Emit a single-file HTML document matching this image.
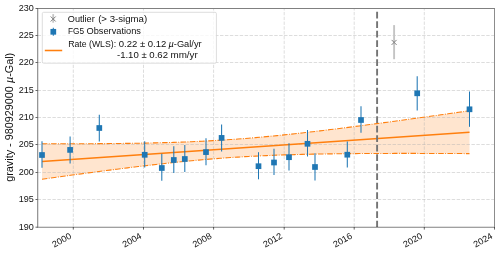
<!DOCTYPE html>
<html><head><meta charset="utf-8"><style>
html,body{margin:0;padding:0;background:#fff;width:500px;height:253px;overflow:hidden}
svg{display:block;will-change:transform;font-family:"Liberation Sans", sans-serif;font-size:8.7px;fill:#111}
</style></head><body>
<svg width="500" height="253" viewBox="0 0 500 253">
<rect width="500" height="253" fill="#fff"/>
<polygon points="42.00,143.77 45.56,143.78 49.12,143.78 52.69,143.78 56.25,143.78 59.81,143.78 63.38,143.78 66.94,143.77 70.50,143.77 74.06,143.76 77.62,143.75 81.19,143.74 84.75,143.73 88.31,143.71 91.88,143.69 95.44,143.67 99.00,143.65 102.56,143.62 106.12,143.60 109.69,143.57 113.25,143.53 116.81,143.50 120.38,143.46 123.94,143.42 127.50,143.37 131.06,143.32 134.62,143.27 138.19,143.21 141.75,143.15 145.31,143.08 148.88,143.01 152.44,142.93 156.00,142.85 159.56,142.77 163.12,142.67 166.69,142.58 170.25,142.47 173.81,142.36 177.38,142.24 180.94,142.12 184.50,141.99 188.06,141.85 191.62,141.71 195.19,141.55 198.75,141.39 202.31,141.22 205.88,141.04 209.44,140.86 213.00,140.66 216.56,140.45 220.12,140.24 223.69,140.02 227.25,139.79 230.81,139.54 234.38,139.29 237.94,139.03 241.50,138.76 245.06,138.49 248.62,138.20 252.19,137.90 255.75,137.60 259.31,137.28 262.88,136.96 266.44,136.63 270.00,136.29 273.56,135.95 277.12,135.59 280.69,135.23 284.25,134.87 287.81,134.49 291.38,134.11 294.94,133.72 298.50,133.33 302.06,132.93 305.62,132.53 309.19,132.12 312.75,131.70 316.31,131.29 319.88,130.86 323.44,130.43 327.00,130.00 330.56,129.57 334.12,129.13 337.69,128.68 341.25,128.24 344.81,127.79 348.38,127.33 351.94,126.88 355.50,126.42 359.06,125.95 362.62,125.49 366.19,125.02 369.75,124.55 373.31,124.08 376.88,123.61 380.44,123.13 384.00,122.66 387.56,122.18 391.12,121.70 394.69,121.21 398.25,120.73 401.81,120.24 405.38,119.76 408.94,119.27 412.50,118.78 416.06,118.28 419.62,117.79 423.19,117.30 426.75,116.80 430.31,116.31 433.88,115.81 437.44,115.31 441.00,114.81 444.56,114.31 448.12,113.81 451.69,113.31 455.25,112.81 458.81,112.30 462.38,111.80 465.94,111.29 469.50,110.79 469.50,153.60 465.94,153.58 462.38,153.57 458.81,153.55 455.25,153.53 451.69,153.52 448.12,153.51 444.56,153.49 441.00,153.48 437.44,153.47 433.88,153.46 430.31,153.45 426.75,153.44 423.19,153.44 419.62,153.43 416.06,153.42 412.50,153.42 408.94,153.42 405.38,153.42 401.81,153.42 398.25,153.42 394.69,153.42 391.12,153.43 387.56,153.44 384.00,153.45 380.44,153.46 376.88,153.47 373.31,153.48 369.75,153.50 366.19,153.52 362.62,153.54 359.06,153.56 355.50,153.59 351.94,153.62 348.38,153.65 344.81,153.69 341.25,153.72 337.69,153.76 334.12,153.81 330.56,153.86 327.00,153.91 323.44,153.96 319.88,154.02 316.31,154.09 312.75,154.16 309.19,154.23 305.62,154.31 302.06,154.39 298.50,154.48 294.94,154.58 291.38,154.68 287.81,154.79 284.25,154.90 280.69,155.02 277.12,155.15 273.56,155.28 270.00,155.43 266.44,155.58 262.88,155.73 259.31,155.90 255.75,156.08 252.19,156.26 248.62,156.45 245.06,156.65 241.50,156.86 237.94,157.08 234.38,157.31 230.81,157.54 227.25,157.79 223.69,158.05 220.12,158.31 216.56,158.59 213.00,158.87 209.44,159.16 205.88,159.46 202.31,159.77 198.75,160.09 195.19,160.42 191.62,160.75 188.06,161.09 184.50,161.44 180.94,161.80 177.38,162.17 173.81,162.54 170.25,162.91 166.69,163.30 163.12,163.69 159.56,164.08 156.00,164.49 152.44,164.89 148.88,165.31 145.31,165.72 141.75,166.14 138.19,166.57 134.62,167.00 131.06,167.43 127.50,167.87 123.94,168.31 120.38,168.76 116.81,169.21 113.25,169.66 109.69,170.12 106.12,170.57 102.56,171.03 99.00,171.50 95.44,171.96 91.88,172.43 88.31,172.90 84.75,173.37 81.19,173.85 77.62,174.33 74.06,174.80 70.50,175.28 66.94,175.77 63.38,176.25 59.81,176.74 56.25,177.22 52.69,177.71 49.12,178.20 45.56,178.69 42.00,179.18" fill="#ff7f0e" fill-opacity="0.2" stroke="none"/>
<line x1="37.6" y1="227.50" x2="494.4" y2="227.50" stroke="#b0b0b0" stroke-opacity="0.55" stroke-width="0.8" stroke-dasharray="3.44 1.49"/>
<line x1="37.6" y1="199.50" x2="494.4" y2="199.50" stroke="#b0b0b0" stroke-opacity="0.55" stroke-width="0.8" stroke-dasharray="3.44 1.49"/>
<line x1="37.6" y1="172.50" x2="494.4" y2="172.50" stroke="#b0b0b0" stroke-opacity="0.55" stroke-width="0.8" stroke-dasharray="3.44 1.49"/>
<line x1="37.6" y1="144.50" x2="494.4" y2="144.50" stroke="#b0b0b0" stroke-opacity="0.55" stroke-width="0.8" stroke-dasharray="3.44 1.49"/>
<line x1="37.6" y1="117.50" x2="494.4" y2="117.50" stroke="#b0b0b0" stroke-opacity="0.55" stroke-width="0.8" stroke-dasharray="3.44 1.49"/>
<line x1="37.6" y1="90.50" x2="494.4" y2="90.50" stroke="#b0b0b0" stroke-opacity="0.55" stroke-width="0.8" stroke-dasharray="3.44 1.49"/>
<line x1="37.6" y1="62.50" x2="494.4" y2="62.50" stroke="#b0b0b0" stroke-opacity="0.55" stroke-width="0.8" stroke-dasharray="3.44 1.49"/>
<line x1="37.6" y1="35.50" x2="494.4" y2="35.50" stroke="#b0b0b0" stroke-opacity="0.55" stroke-width="0.8" stroke-dasharray="3.44 1.49"/>
<line x1="37.6" y1="8.50" x2="494.4" y2="8.50" stroke="#b0b0b0" stroke-opacity="0.55" stroke-width="0.8" stroke-dasharray="3.44 1.49"/>
<line x1="73.30" y1="227.0" x2="73.30" y2="8.3" stroke="#b0b0b0" stroke-opacity="0.55" stroke-width="0.8" stroke-dasharray="3.35 1.45" stroke-dashoffset="4.3"/>
<line x1="143.50" y1="227.0" x2="143.50" y2="8.3" stroke="#b0b0b0" stroke-opacity="0.55" stroke-width="0.8" stroke-dasharray="3.35 1.45" stroke-dashoffset="4.3"/>
<line x1="213.60" y1="227.0" x2="213.60" y2="8.3" stroke="#b0b0b0" stroke-opacity="0.55" stroke-width="0.8" stroke-dasharray="3.35 1.45" stroke-dashoffset="4.3"/>
<line x1="284.20" y1="227.0" x2="284.20" y2="8.3" stroke="#b0b0b0" stroke-opacity="0.55" stroke-width="0.8" stroke-dasharray="3.35 1.45" stroke-dashoffset="4.3"/>
<line x1="354.20" y1="227.0" x2="354.20" y2="8.3" stroke="#b0b0b0" stroke-opacity="0.55" stroke-width="0.8" stroke-dasharray="3.35 1.45" stroke-dashoffset="4.3"/>
<line x1="424.30" y1="227.0" x2="424.30" y2="8.3" stroke="#b0b0b0" stroke-opacity="0.55" stroke-width="0.8" stroke-dasharray="3.35 1.45" stroke-dashoffset="4.3"/>
<line x1="494.50" y1="227.0" x2="494.50" y2="8.3" stroke="#b0b0b0" stroke-opacity="0.55" stroke-width="0.8" stroke-dasharray="3.35 1.45" stroke-dashoffset="4.3"/>
<path d="M42.00,143.77 L45.56,143.78 L49.12,143.78 L52.69,143.78 L56.25,143.78 L59.81,143.78 L63.38,143.78 L66.94,143.77 L70.50,143.77 L74.06,143.76 L77.62,143.75 L81.19,143.74 L84.75,143.73 L88.31,143.71 L91.88,143.69 L95.44,143.67 L99.00,143.65 L102.56,143.62 L106.12,143.60 L109.69,143.57 L113.25,143.53 L116.81,143.50 L120.38,143.46 L123.94,143.42 L127.50,143.37 L131.06,143.32 L134.62,143.27 L138.19,143.21 L141.75,143.15 L145.31,143.08 L148.88,143.01 L152.44,142.93 L156.00,142.85 L159.56,142.77 L163.12,142.67 L166.69,142.58 L170.25,142.47 L173.81,142.36 L177.38,142.24 L180.94,142.12 L184.50,141.99 L188.06,141.85 L191.62,141.71 L195.19,141.55 L198.75,141.39 L202.31,141.22 L205.88,141.04 L209.44,140.86 L213.00,140.66 L216.56,140.45 L220.12,140.24 L223.69,140.02 L227.25,139.79 L230.81,139.54 L234.38,139.29 L237.94,139.03 L241.50,138.76 L245.06,138.49 L248.62,138.20 L252.19,137.90 L255.75,137.60 L259.31,137.28 L262.88,136.96 L266.44,136.63 L270.00,136.29 L273.56,135.95 L277.12,135.59 L280.69,135.23 L284.25,134.87 L287.81,134.49 L291.38,134.11 L294.94,133.72 L298.50,133.33 L302.06,132.93 L305.62,132.53 L309.19,132.12 L312.75,131.70 L316.31,131.29 L319.88,130.86 L323.44,130.43 L327.00,130.00 L330.56,129.57 L334.12,129.13 L337.69,128.68 L341.25,128.24 L344.81,127.79 L348.38,127.33 L351.94,126.88 L355.50,126.42 L359.06,125.95 L362.62,125.49 L366.19,125.02 L369.75,124.55 L373.31,124.08 L376.88,123.61 L380.44,123.13 L384.00,122.66 L387.56,122.18 L391.12,121.70 L394.69,121.21 L398.25,120.73 L401.81,120.24 L405.38,119.76 L408.94,119.27 L412.50,118.78 L416.06,118.28 L419.62,117.79 L423.19,117.30 L426.75,116.80 L430.31,116.31 L433.88,115.81 L437.44,115.31 L441.00,114.81 L444.56,114.31 L448.12,113.81 L451.69,113.31 L455.25,112.81 L458.81,112.30 L462.38,111.80 L465.94,111.29 L469.50,110.79" fill="none" stroke="#ff7f0e" stroke-width="1.1" stroke-dasharray="5.585 1.396 0.873 1.396" stroke-dashoffset="0.2"/>
<path d="M42.00,179.18 L45.56,178.69 L49.12,178.20 L52.69,177.71 L56.25,177.22 L59.81,176.74 L63.38,176.25 L66.94,175.77 L70.50,175.28 L74.06,174.80 L77.62,174.33 L81.19,173.85 L84.75,173.37 L88.31,172.90 L91.88,172.43 L95.44,171.96 L99.00,171.50 L102.56,171.03 L106.12,170.57 L109.69,170.12 L113.25,169.66 L116.81,169.21 L120.38,168.76 L123.94,168.31 L127.50,167.87 L131.06,167.43 L134.62,167.00 L138.19,166.57 L141.75,166.14 L145.31,165.72 L148.88,165.31 L152.44,164.89 L156.00,164.49 L159.56,164.08 L163.12,163.69 L166.69,163.30 L170.25,162.91 L173.81,162.54 L177.38,162.17 L180.94,161.80 L184.50,161.44 L188.06,161.09 L191.62,160.75 L195.19,160.42 L198.75,160.09 L202.31,159.77 L205.88,159.46 L209.44,159.16 L213.00,158.87 L216.56,158.59 L220.12,158.31 L223.69,158.05 L227.25,157.79 L230.81,157.54 L234.38,157.31 L237.94,157.08 L241.50,156.86 L245.06,156.65 L248.62,156.45 L252.19,156.26 L255.75,156.08 L259.31,155.90 L262.88,155.73 L266.44,155.58 L270.00,155.43 L273.56,155.28 L277.12,155.15 L280.69,155.02 L284.25,154.90 L287.81,154.79 L291.38,154.68 L294.94,154.58 L298.50,154.48 L302.06,154.39 L305.62,154.31 L309.19,154.23 L312.75,154.16 L316.31,154.09 L319.88,154.02 L323.44,153.96 L327.00,153.91 L330.56,153.86 L334.12,153.81 L337.69,153.76 L341.25,153.72 L344.81,153.69 L348.38,153.65 L351.94,153.62 L355.50,153.59 L359.06,153.56 L362.62,153.54 L366.19,153.52 L369.75,153.50 L373.31,153.48 L376.88,153.47 L380.44,153.46 L384.00,153.45 L387.56,153.44 L391.12,153.43 L394.69,153.42 L398.25,153.42 L401.81,153.42 L405.38,153.42 L408.94,153.42 L412.50,153.42 L416.06,153.42 L419.62,153.43 L423.19,153.44 L426.75,153.44 L430.31,153.45 L433.88,153.46 L437.44,153.47 L441.00,153.48 L444.56,153.49 L448.12,153.51 L451.69,153.52 L455.25,153.53 L458.81,153.55 L462.38,153.57 L465.94,153.58 L469.50,153.60" fill="none" stroke="#ff7f0e" stroke-width="1.1" stroke-dasharray="5.585 1.396 0.873 1.396" stroke-dashoffset="0.2"/>
<line x1="42.0" y1="161.48" x2="469.5" y2="132.19" stroke="#ff7f0e" stroke-width="1.55"/>
<line x1="377.1" y1="227.0" x2="377.1" y2="8.3" stroke="#747474" stroke-width="1.9" stroke-dasharray="6.63 2.87" stroke-dashoffset="0.4"/>
<line x1="42.0" y1="141.3" x2="42.0" y2="167.8" stroke="#1f77b4" stroke-width="1.05"/>
<line x1="70.1" y1="136.5" x2="70.1" y2="163.5" stroke="#1f77b4" stroke-width="1.05"/>
<line x1="99.3" y1="114.7" x2="99.3" y2="141.4" stroke="#1f77b4" stroke-width="1.05"/>
<line x1="144.7" y1="141.2" x2="144.7" y2="167.5" stroke="#1f77b4" stroke-width="1.05"/>
<line x1="161.8" y1="153.8" x2="161.8" y2="180.7" stroke="#1f77b4" stroke-width="1.05"/>
<line x1="173.8" y1="146.2" x2="173.8" y2="173.0" stroke="#1f77b4" stroke-width="1.05"/>
<line x1="184.8" y1="145.0" x2="184.8" y2="172.0" stroke="#1f77b4" stroke-width="1.05"/>
<line x1="206.0" y1="138.3" x2="206.0" y2="165.3" stroke="#1f77b4" stroke-width="1.05"/>
<line x1="221.6" y1="124.5" x2="221.6" y2="151.5" stroke="#1f77b4" stroke-width="1.05"/>
<line x1="258.5" y1="152.2" x2="258.5" y2="179.3" stroke="#1f77b4" stroke-width="1.05"/>
<line x1="274.0" y1="148.8" x2="274.0" y2="175.0" stroke="#1f77b4" stroke-width="1.05"/>
<line x1="289.0" y1="143.3" x2="289.0" y2="170.5" stroke="#1f77b4" stroke-width="1.05"/>
<line x1="307.5" y1="130.0" x2="307.5" y2="156.5" stroke="#1f77b4" stroke-width="1.05"/>
<line x1="315.0" y1="153.2" x2="315.0" y2="180.5" stroke="#1f77b4" stroke-width="1.05"/>
<line x1="347.3" y1="141.5" x2="347.3" y2="167.5" stroke="#1f77b4" stroke-width="1.05"/>
<line x1="361.0" y1="106.2" x2="361.0" y2="132.7" stroke="#1f77b4" stroke-width="1.05"/>
<line x1="417.2" y1="76.2" x2="417.2" y2="110.5" stroke="#1f77b4" stroke-width="1.05"/>
<line x1="469.5" y1="91.5" x2="469.5" y2="126.8" stroke="#1f77b4" stroke-width="1.05"/>
<rect x="39.15" y="152.15" width="5.7" height="5.7" fill="#1f77b4"/>
<rect x="67.25" y="147.05" width="5.7" height="5.7" fill="#1f77b4"/>
<rect x="96.45" y="125.15" width="5.7" height="5.7" fill="#1f77b4"/>
<rect x="141.85" y="151.95" width="5.7" height="5.7" fill="#1f77b4"/>
<rect x="158.95" y="165.15" width="5.7" height="5.7" fill="#1f77b4"/>
<rect x="170.95" y="157.15" width="5.7" height="5.7" fill="#1f77b4"/>
<rect x="181.95" y="156.15" width="5.7" height="5.7" fill="#1f77b4"/>
<rect x="203.15" y="149.25" width="5.7" height="5.7" fill="#1f77b4"/>
<rect x="218.75" y="135.05" width="5.7" height="5.7" fill="#1f77b4"/>
<rect x="255.65" y="163.35" width="5.7" height="5.7" fill="#1f77b4"/>
<rect x="271.15" y="159.65" width="5.7" height="5.7" fill="#1f77b4"/>
<rect x="286.15" y="154.35" width="5.7" height="5.7" fill="#1f77b4"/>
<rect x="304.65" y="140.95" width="5.7" height="5.7" fill="#1f77b4"/>
<rect x="312.15" y="164.15" width="5.7" height="5.7" fill="#1f77b4"/>
<rect x="344.45" y="151.85" width="5.7" height="5.7" fill="#1f77b4"/>
<rect x="358.15" y="117.15" width="5.7" height="5.7" fill="#1f77b4"/>
<rect x="414.35" y="90.45" width="5.7" height="5.7" fill="#1f77b4"/>
<rect x="466.65" y="106.45" width="5.7" height="5.7" fill="#1f77b4"/>
<line x1="394.1" y1="25.1" x2="394.1" y2="59.2" stroke="#c4c4c4" stroke-width="1.9"/>
<path d="M391.6,39.9 L396.6,44.9 M391.6,44.9 L396.6,39.9" stroke="#808080" stroke-width="1"/>
<rect x="37" y="8" width="1" height="220" fill="#969696"/>
<rect x="38" y="9" width="1" height="218" fill="#000" fill-opacity="0.12"/>
<rect x="494" y="8" width="1" height="220" fill="#8c8c8c"/>
<rect x="37" y="8" width="458" height="1" fill="#808080"/>
<rect x="37" y="227" width="458" height="1" fill="#a0a0a0"/>
<rect x="38" y="226" width="456" height="1" fill="#000" fill-opacity="0.12"/>
<line x1="35.5" y1="227.20" x2="37.6" y2="227.20" stroke="#222" stroke-width="0.7"/>
<line x1="35.5" y1="199.50" x2="37.6" y2="199.50" stroke="#222" stroke-width="0.7"/>
<line x1="35.5" y1="172.50" x2="37.6" y2="172.50" stroke="#222" stroke-width="0.7"/>
<line x1="35.5" y1="144.50" x2="37.6" y2="144.50" stroke="#222" stroke-width="0.7"/>
<line x1="35.5" y1="117.50" x2="37.6" y2="117.50" stroke="#222" stroke-width="0.7"/>
<line x1="35.5" y1="90.50" x2="37.6" y2="90.50" stroke="#222" stroke-width="0.7"/>
<line x1="35.5" y1="62.50" x2="37.6" y2="62.50" stroke="#222" stroke-width="0.7"/>
<line x1="35.5" y1="35.50" x2="37.6" y2="35.50" stroke="#222" stroke-width="0.7"/>
<line x1="35.5" y1="8.50" x2="37.6" y2="8.50" stroke="#222" stroke-width="0.7"/>
<line x1="73.30" y1="227.0" x2="73.30" y2="229.6" stroke="#222" stroke-width="0.7"/>
<line x1="143.50" y1="227.0" x2="143.50" y2="229.6" stroke="#222" stroke-width="0.7"/>
<line x1="213.60" y1="227.0" x2="213.60" y2="229.6" stroke="#222" stroke-width="0.7"/>
<line x1="284.20" y1="227.0" x2="284.20" y2="229.6" stroke="#222" stroke-width="0.7"/>
<line x1="354.20" y1="227.0" x2="354.20" y2="229.6" stroke="#222" stroke-width="0.7"/>
<line x1="424.30" y1="227.0" x2="424.30" y2="229.6" stroke="#222" stroke-width="0.7"/>
<line x1="494.50" y1="227.0" x2="494.50" y2="229.6" stroke="#222" stroke-width="0.7"/>
<text x="33.8" y="230.00" text-anchor="end" textLength="15.1" lengthAdjust="spacingAndGlyphs">190</text>
<text x="33.8" y="201.95" text-anchor="end" textLength="15.1" lengthAdjust="spacingAndGlyphs">195</text>
<text x="33.8" y="174.95" text-anchor="end" textLength="15.1" lengthAdjust="spacingAndGlyphs">200</text>
<text x="33.8" y="146.95" text-anchor="end" textLength="15.1" lengthAdjust="spacingAndGlyphs">205</text>
<text x="33.8" y="119.95" text-anchor="end" textLength="15.1" lengthAdjust="spacingAndGlyphs">210</text>
<text x="33.8" y="92.95" text-anchor="end" textLength="15.1" lengthAdjust="spacingAndGlyphs">215</text>
<text x="33.8" y="64.95" text-anchor="end" textLength="15.1" lengthAdjust="spacingAndGlyphs">220</text>
<text x="33.8" y="37.95" text-anchor="end" textLength="15.1" lengthAdjust="spacingAndGlyphs">225</text>
<text x="33.8" y="10.95" text-anchor="end" textLength="15.1" lengthAdjust="spacingAndGlyphs">230</text>
<text transform="translate(72.10,237.6) rotate(-30)" text-anchor="end" font-size="8.9" textLength="20.5" lengthAdjust="spacingAndGlyphs">2000</text>
<text transform="translate(142.30,237.6) rotate(-30)" text-anchor="end" font-size="8.9" textLength="20.5" lengthAdjust="spacingAndGlyphs">2004</text>
<text transform="translate(212.40,237.6) rotate(-30)" text-anchor="end" font-size="8.9" textLength="20.5" lengthAdjust="spacingAndGlyphs">2008</text>
<text transform="translate(283.00,237.6) rotate(-30)" text-anchor="end" font-size="8.9" textLength="20.5" lengthAdjust="spacingAndGlyphs">2012</text>
<text transform="translate(353.00,237.6) rotate(-30)" text-anchor="end" font-size="8.9" textLength="20.5" lengthAdjust="spacingAndGlyphs">2016</text>
<text transform="translate(423.10,237.6) rotate(-30)" text-anchor="end" font-size="8.9" textLength="20.5" lengthAdjust="spacingAndGlyphs">2020</text>
<text transform="translate(493.30,237.6) rotate(-30)" text-anchor="end" font-size="8.9" textLength="20.5" lengthAdjust="spacingAndGlyphs">2024</text>
<text transform="translate(12.8,117.3) rotate(-90)" text-anchor="middle" font-size="10.4" textLength="129" lengthAdjust="spacingAndGlyphs">gravity - 980929000 <tspan font-style="italic">µ</tspan>-Gal)</text>
<rect x="42.3" y="12.3" width="174.1" height="50.9" rx="1.3" ry="1.3" fill="#fff" fill-opacity="0.8" stroke="#d2d2d2" stroke-width="0.75"/>
<line x1="53.2" y1="14.1" x2="53.2" y2="22.7" stroke="#c4c4c4" stroke-width="1.8"/>
<path d="M50.7,16.5 L55.7,21.5 M50.7,21.5 L55.7,16.5" stroke="#808080" stroke-width="1"/>
<line x1="53.3" y1="27.8" x2="53.3" y2="35.8" stroke="#1f77b4" stroke-width="1.05"/>
<rect x="50.45" y="28.95" width="5.7" height="5.7" fill="#1f77b4"/>
<line x1="44.8" y1="50.5" x2="62.2" y2="50.5" stroke="#ff7f0e" stroke-width="1.55"/>
<text x="67.75" y="21.9" textLength="27.00" lengthAdjust="spacingAndGlyphs">Outlier</text>
<text x="98.15" y="21.9" textLength="49.00" lengthAdjust="spacingAndGlyphs">(&gt; 3-sigma)</text>
<text x="67.95" y="33.5" textLength="16.10" lengthAdjust="spacingAndGlyphs">FG5</text>
<text x="86.55" y="33.5" textLength="54.40" lengthAdjust="spacingAndGlyphs">Observations</text>
<text x="68.25" y="47.1" textLength="47.80" lengthAdjust="spacingAndGlyphs">Rate (WLS):</text>
<text x="118.75" y="47.1" textLength="47.60" lengthAdjust="spacingAndGlyphs">0.22 ± 0.12</text>
<text x="168.45" y="47.1" textLength="33.20" lengthAdjust="spacingAndGlyphs"><tspan font-style="italic">µ</tspan>-Gal/yr</text>
<text x="116.95" y="57.8" textLength="51.10" lengthAdjust="spacingAndGlyphs">-1.10 ± 0.62</text>
<text x="170.45" y="57.8" textLength="27.30" lengthAdjust="spacingAndGlyphs">mm/yr</text>
</svg>
</body></html>
